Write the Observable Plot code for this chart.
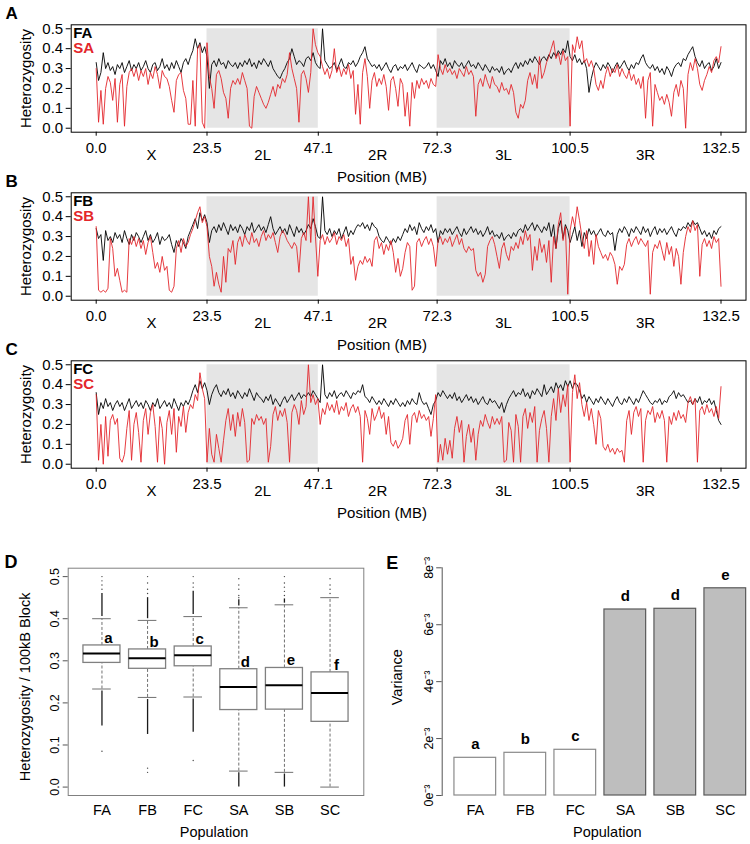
<!DOCTYPE html>
<html><head><meta charset="utf-8">
<script src="https://cdn.jsdelivr.net/npm/d3@7"></script>
<script src="https://cdn.jsdelivr.net/npm/@observablehq/plot@0.6"></script>
<style>
body{margin:0;background:#fff;}
#wrap{position:relative;width:750px;height:844px;overflow:hidden;background:#fff;}
#wrap svg{position:absolute;overflow:visible;}
</style></head><body><div id="wrap"></div>
<script>
// ---------- genome scans: heterozygosity x100, one value per 0.5 MB (0 .. 132.5 MB)
const STEP_MB = 0.5;
const FA = [33,24,28,38,30,33,29,31,27,32, 30,33,28,31,34,29,32,30,33,29, 31,34,30,28,32,33,29,31,35,30, 32,29,33,30,34,31,28,33,35,32,
 36,39,45,40,43,38,41,36,20,32, 34,31,35,32,33,30,34,32,31,33, 30,33,31,34,32,35,31,33,30,34, 32,35,33,31,34,30,28,26,25,28,
 30,33,35,40,36,32,34,33,31,35, 36,34,38,33,31,30,50,34,32,30, 31,33,29,32,35,31,30,33,32,34, 31,33,36,38,41,35,33,31,32,30,
 32,29,31,33,30,28,31,32,29,31, 30,32,29,31,33,30,28,32,31,30, 31,33,30,32,29,26,34,32,35,31, 33,30,34,32,31,33,30,32,34,31,
 32,30,33,31,29,32,30,28,31,29, 30,28,31,27,29,30,28,31,33,30, 33,31,34,32,35,33,36,34,32,35, 36,34,37,35,38,36,39,37,40,38,
 44,36,34,37,33,35,32,34,30,18, 25,30,33,31,29,32,30,33,31,28, 31,33,30,32,34,31,29,32,30,33, 32,35,37,33,31,30,32,29,31,28,
 30,27,31,29,26,30,32,33,31,35, 34,37,39,41,36,33,31,34,30,32, 33,29,31,35,30,33];
const SA = [30,3,19,2,20,26,23,14,25,3, 22,27,1,21,28,30,26,30,24,29, 26,30,22,28,25,31,27,20,29,26, 25,21,14,8,24,27,28,19,15,2,
 2,24,1,40,42,3,0,43,26,20, 10,27,29,25,18,15,5,20,24,22, 25,22,28,24,20,1,0,16,21,18, 15,12,10,13,17,21,16,22,20,25,
 23,27,38,30,25,20,3,27,29,25, 18,28,50,42,38,36,31,27,30,25, 29,40,28,31,26,30,27,32,25,29, 7,22,2,28,35,26,10,24,28,21,
 25,22,27,21,9,24,26,20,11,25, 22,6,18,1,23,15,24,20,25,22, 24,20,25,22,21,37,30,27,32,28, 30,27,29,25,30,28,26,31,27,29,
 26,6,22,25,21,27,23,20,26,22, 21,18,23,19,20,17,22,18,8,5, 12,10,14,24,28,22,27,20,36,25, 28,33,36,40,44,35,38,32,39,34,
 36,1,42,38,46,40,44,33,35,31, 34,30,22,19,24,20,27,31,26,30, 28,32,26,30,27,25,29,24,27,22, 25,20,26,5,24,28,1,22,18,14,
 16,12,17,13,6,18,22,16,24,20, 0,27,33,29,35,30,22,19,24,27, 31,28,34,36,33,41];
const FB = [34,29,31,18,33,28,30,27,32,29, 31,27,33,29,26,31,28,32,30,27, 30,33,28,31,27,29,32,26,30,28, 29,31,26,22,28,25,29,27,24,30,
 33,36,39,34,42,38,41,37,27,33, 35,32,36,33,37,34,31,36,33,35, 32,36,34,31,35,33,37,32,34,36, 33,35,32,36,40,34,31,33,35,32,
 34,31,36,33,30,35,32,34,31,33, 36,34,39,35,30,29,50,33,31,34, 30,33,31,34,29,32,35,30,33,31, 34,36,35,37,34,36,33,37,35,34,
 30,28,27,30,28,26,29,27,30,28, 31,34,32,36,33,35,31,37,34,32, 35,33,36,32,34,27,33,31,34,32, 34,31,33,35,32,30,34,31,33,35,
 32,34,31,33,30,32,35,31,33,30, 31,29,32,28,30,31,29,32,30,33, 34,32,36,33,35,37,33,36,34,32, 35,33,37,30,36,24,34,38,29,36,
 33,27,31,35,28,33,25,32,29,34, 31,33,30,32,34,31,30,33,31,32, 23,31,34,32,35,33,30,34,32,35, 33,31,35,32,34,30,33,35,31,34,
 32,34,31,33,35,32,30,34,33,35, 34,37,35,38,36,37,34,31,33,30, 32,29,33,31,34,35];
const SB = [35,3,2,3,2,4,29,24,10,14, 8,2,3,2,29,26,30,25,29,24, 28,21,27,30,22,14,17,12,20,13, 15,3,2,5,24,28,22,29,25,27,
 31,34,38,42,45,37,40,35,20,15, 5,12,6,2,20,7,24,22,28,16, 27,30,25,31,28,26,32,27,29,25, 30,33,28,31,29,32,27,22,30,33,
 31,28,26,24,27,25,12,29,32,28, 50,27,50,30,10,28,31,26,30,27, 29,32,26,30,28,31,25,29,16,20, 8,15,18,16,20,17,19,15,28,30,
 24,27,21,26,23,28,22,12,19,10, 14,22,27,25,3,5,27,29,25,28, 30,26,29,25,15,28,30,26,29,27, 30,25,28,31,26,29,24,22,25,23,
 24,13,10,12,7,11,25,28,30,26, 20,14,24,27,21,18,25,23,27,24, 30,26,33,28,31,13,25,18,29,22, 26,17,28,7,30,24,36,42,28,35,
 1,33,40,35,45,38,30,24,33,20, 28,16,31,25,22,19,21,18,22,20, 16,6,15,13,16,26,29,25,28,30, 26,29,27,25,28,1,22,26,24,28,
 23,18,27,21,25,15,24,20,6,22, 30,35,32,38,33,36,10,26,29,25, 28,24,30,27,29,5];
const FC = [36,25,31,28,33,29,31,27,30,32, 29,31,27,30,33,28,30,32,29,31, 28,32,30,27,31,29,33,28,30,32, 29,31,28,33,30,27,31,29,32,30,
 33,37,40,36,42,38,41,37,30,35, 38,40,36,34,37,35,38,34,36,33, 37,35,33,36,34,38,35,32,36,34, 33,31,34,32,35,30,33,31,29,32,
 34,31,33,35,32,34,36,33,35,34, 36,34,37,35,33,31,50,35,33,36, 34,37,33,35,36,34,37,35,33,36, 35,37,36,40,34,33,31,34,32,30,
 32,30,33,31,29,32,30,33,31,29, 31,29,32,30,33,31,30,36,32,30, 31,28,25,30,32,36,34,37,35,33, 35,33,36,32,34,31,33,35,32,34,
 31,33,30,32,34,31,30,33,31,32, 30,28,31,26,30,33,35,37,34,36, 35,38,34,36,33,37,35,38,36,34, 40,35,37,39,36,41,38,40,37,42,
 39,42,38,41,40,37,33,35,31,34, 32,30,33,31,34,32,30,33,31,29, 32,34,31,30,33,31,34,32,30,33, 31,34,37,35,33,31,30,32,31,33,
 30,32,31,34,35,37,33,36,34,35, 33,31,32,30,33,31,34,30,32,31, 33,30,32,27,22,20];
const SC = [35,2,20,0,24,4,22,25,20,23, 3,1,5,18,27,2,20,26,16,1, 22,28,15,26,30,19,1,24,18,0, 21,27,15,28,6,24,19,29,16,26,
 30,28,35,32,46,38,33,1,18,5, 1,15,8,1,12,22,28,17,25,14, 26,19,28,21,1,2,23,20,25,22, 24,20,23,1,9,25,29,22,27,24,
 28,21,1,26,30,27,20,32,25,29, 50,31,35,30,33,20,28,25,31,27, 30,26,32,25,29,27,31,24,28,30, 26,29,24,1,27,23,15,28,22,25,
 29,23,26,15,24,11,9,12,8,10, 13,22,25,10,24,26,21,27,23,25, 22,24,14,23,35,1,10,2,13,5, 12,3,18,24,16,22,1,14,20,11,
 18,2,15,22,19,25,21,18,24,20, 23,20,24,1,2,21,17,1,25,19, 1,24,28,18,26,21,29,1,17,23, 27,18,1,24,33,22,38,26,35,29,
 40,1,36,45,33,41,30,24,31,22, 28,20,10,27,23,9,7,10,6,8, 5,8,6,7,1,22,27,15,26,29, 24,28,1,22,27,25,29,21,26,23,
 27,22,1,24,20,26,22,27,23,25, 21,31,34,30,33,1,27,29,25,30, 26,28,24,29,23,39];

const chromBounds = [0, 23.5, 47.1, 72.3, 100.5, 132.5];
const chromTickLabels = ["0.0", "23.5", "47.1", "72.3", "100.5", "132.5"];
const chromNames = ["X", "2L", "2R", "3L", "3R"];
const shadedArms = [[23.5, 47.1], [72.3, 100.5]];
const hetTicks = [0, 0.1, 0.2, 0.3, 0.4, 0.5];

// ---------- D: boxplot summary per population
const popCats = ["FA", "FB", "FC", "SA", "SB", "SC"];
const whiskLo = [0.233, 0.213, 0.214, 0.038, 0.035, 0.0];
const boxQ1   = [0.295, 0.281, 0.287, 0.183, 0.184, 0.155];
const boxMed  = [0.3175, 0.306, 0.313, 0.238, 0.242, 0.2235];
const boxQ3   = [0.3365, 0.327, 0.334, 0.280, 0.283, 0.2725];
const whiskHi = [0.400, 0.396, 0.405, 0.426, 0.433, 0.450];
const boxLetters = ["a", "b", "c", "d", "e", "f"];
const denseOutHi = [[0.405, 0.46], [0.40, 0.45], [0.41, 0.465], [0.43, 0.445], [0.437, 0.447], null];
const denseOutLo = [[0.145, 0.228], [0.125, 0.208], [0.13, 0.209], [0.0, 0.034], [0.0, 0.031], null];
const sparseOut = [
  ["FA", [0.47, 0.48, 0.49, 0.50, 0.085]],
  ["FB", [0.46, 0.47, 0.485, 0.50, 0.045, 0.035]],
  ["FC", [0.475, 0.485, 0.50, 0.063]],
  ["SA", [0.45, 0.455, 0.47, 0.48, 0.495]],
  ["SB", [0.455, 0.465, 0.475, 0.485, 0.50]],
  ["SC", [0.46, 0.47, 0.48, 0.495]]
];

// ---------- E: variance per population
const variance = [1.324e-3, 1.50e-3, 1.606e-3, 6.535e-3, 6.56e-3, 7.28e-3];
const varLetters = ["a", "b", "c", "d", "d", "e"];
const varTicks = [0, 0.002, 0.004, 0.006, 0.008];
const varTickLabels = ["0e\u207B\u00B3", "2e\u207B\u00B3", "4e\u207B\u00B3", "6e\u207B\u00B3", "8e\u207B\u00B3"];

const FONT = "'Liberation Sans', Arial, Helvetica, sans-serif";
const RED = "#e3262b";
const wrap = document.getElementById("wrap");
function place(svg, left, top) {
  svg.style.left = left + "px";
  svg.style.top = top + "px";
  wrap.appendChild(svg);
}

function genomePanel(letter, bName, rName, black, red, top) {
  const rows = arr => arr.map((v, i) => ({pos: i * STEP_MB, het: v / 100}));
  const chroms = chromNames.map((name, i) => ({name, mid: (chromBounds[i] + chromBounds[i + 1]) / 2}));
  const svg = Plot.plot({
    width: 750, height: 185,
    marginLeft: 70.7, marginRight: 4.5, marginTop: 24.3, marginBottom: 53.3,
    style: {fontFamily: FONT, fontSize: "15px", background: "transparent", color: "black"},
    x: {domain: [-5.3, 137.8]},
    y: {domain: [-0.02, 0.52]},
    marks: [
      Plot.rect(shadedArms, {x1: d => d[0], x2: d => d[1], y1: 0, y2: 0.5, fill: "#e5e5e5"}),
      Plot.line(rows(black), {x: "pos", y: "het", stroke: "#000", strokeWidth: 0.9}),
      Plot.line(rows(red), {x: "pos", y: "het", stroke: RED, strokeWidth: 0.9}),
      Plot.frame({stroke: "#000"}),
      Plot.axisY({ticks: hetTicks, tickSize: 5, tickPadding: 3, tickFormat: d3.format(".1f"), label: null}),
      Plot.axisX({ticks: chromBounds, tickSize: 4, tickPadding: 6, label: null,
        tickFormat: d => chromTickLabels[chromBounds.indexOf(d)]}),
      Plot.text(chroms, {x: "mid", text: "name", frameAnchor: "bottom", dy: 22.8, lineAnchor: "middle"}),
      Plot.text(["Position (MB)"], {text: d => d, frameAnchor: "bottom", dx: -26.5, dy: 44.8,
        textAnchor: "middle", lineAnchor: "middle"}),
      Plot.text(["Heterozygosity"], {text: d => d, frameAnchor: "left", dx: -44.7, rotate: -90,
        textAnchor: "middle", lineAnchor: "middle"}),
      Plot.text([letter], {text: d => d, frameAnchor: "top-left", dx: -65.7, dy: -11.3, textAnchor: "start",
        lineAnchor: "middle", fontWeight: "bold", fontSize: 17}),
      Plot.text([bName], {text: d => d, frameAnchor: "top-left", dx: 2, dy: 8.2, textAnchor: "start",
        lineAnchor: "middle", fontWeight: "bold"}),
      Plot.text([rName], {text: d => d, frameAnchor: "top-left", dx: 2, dy: 23.7, textAnchor: "start",
        lineAnchor: "middle", fontWeight: "bold", fill: RED})
    ]
  });
  place(svg, 0, top);
}

genomePanel("A", "FA", "SA", FA, SA, 0);
genomePanel("B", "FB", "SB", FB, SB, 167.8);
genomePanel("C", "FC", "SC", FC, SC, 335.6);

// ---------- D
{
  const rows = popCats.map((cat, i) => ({cat, lo: whiskLo[i], q1: boxQ1[i], med: boxMed[i], q3: boxQ3[i],
    hi: whiskHi[i], sig: boxLetters[i]}));
  const dense = [];
  popCats.forEach((cat, i) => {
    if (denseOutHi[i]) dense.push({cat, a: denseOutHi[i][0], b: denseOutHi[i][1]});
    if (denseOutLo[i]) dense.push({cat, a: denseOutLo[i][0], b: denseOutLo[i][1]});
  });
  const sparse = sparseOut.flatMap(([cat, vs]) => vs.map(v => ({cat, v})));
  const svg = Plot.plot({
    width: 375, height: 304,
    marginLeft: 67.7, marginRight: 11.7, marginTop: 27.7, marginBottom: 49,
    style: {fontFamily: FONT, fontSize: "14.5px", background: "transparent", color: "black"},
    x: {type: "band", domain: popCats, paddingInner: 0, paddingOuter: 0.24, round: false},
    y: {domain: [-0.02, 0.52]},
    marks: [
      Plot.frame({stroke: "#808080"}),
      Plot.ruleX(rows, {x: "cat", y1: "q3", y2: "hi", stroke: "#707070", strokeDasharray: "3,2"}),
      Plot.ruleX(rows, {x: "cat", y1: "lo", y2: "q1", stroke: "#707070", strokeDasharray: "3,2"}),
      Plot.ruleX(dense, {x: "cat", y1: "a", y2: "b", stroke: "#1a1a1a", strokeWidth: 1.3}),
      Plot.dot(sparse, {x: "cat", y: "v", r: 0.7, fill: "#444", stroke: null}),
      Plot.tickY(rows, {x: "cat", y: "hi", stroke: "#707070", insetLeft: 13.5, insetRight: 13.5}),
      Plot.tickY(rows, {x: "cat", y: "lo", stroke: "#707070", insetLeft: 13.5, insetRight: 13.5}),
      Plot.barY(rows, {x: "cat", y1: "q1", y2: "q3", fill: "white", stroke: "#808080", strokeWidth: 1.3,
        insetLeft: 4.3, insetRight: 4.3}),
      Plot.tickY(rows, {x: "cat", y: "med", stroke: "#000", strokeWidth: 2, insetLeft: 4.3, insetRight: 4.3}),
      Plot.text(rows, {x: "cat", y: "q3", text: "sig", dx: 6.5, dy: -7.5, fontWeight: "bold", fontSize: 15,
        lineAnchor: "middle"}),
      Plot.axisY({ticks: hetTicks, tickSize: 5, tickRotate: -90, tickFormat: d3.format(".1f"), fontSize: 12.5,
        label: null, stroke: "#555"}),
      Plot.axisX({tickSize: 0, tickPadding: 9, label: null}),
      Plot.text(["Heterozygosity / 100kB Block"], {text: d => d, frameAnchor: "left", dx: -42.7, dy: 5,
        rotate: -90, textAnchor: "middle", lineAnchor: "middle"}),
      Plot.text(["Population"], {text: d => d, frameAnchor: "bottom", dx: -2, dy: 36.7,
        textAnchor: "middle", lineAnchor: "middle"}),
      Plot.text(["D"], {text: d => d, frameAnchor: "top-left", dx: -57.2, dy: -6, textAnchor: "middle",
        lineAnchor: "middle", fontWeight: "bold", fontSize: 18})
    ]
  });
  place(svg, 0, 540);
}

// ---------- E
{
  const rows = popCats.map((cat, i) => ({cat, v: variance[i], sig: varLetters[i]}));
  const svg = Plot.plot({
    width: 375, height: 304,
    marginLeft: 66.7, marginRight: 0.2, marginTop: 27.3, marginBottom: 49,
    style: {fontFamily: FONT, fontSize: "14.5px", background: "transparent", color: "black"},
    x: {type: "band", domain: popCats, paddingInner: 0, paddingOuter: 0.081, align: 1, round: false},
    y: {domain: [0, 0.008]},
    marks: [
      Plot.barY(rows, {x: "cat", y: "v", fill: d => d.cat.startsWith("S") ? "#bebebe" : "white",
        stroke: d => d.cat.startsWith("S") ? "#5a5a5a" : "#8a8a8a", strokeWidth: 1.2,
        insetLeft: 4.15, insetRight: 4.15}),
      Plot.text(rows, {x: "cat", y: "v", text: "sig", dy: -13.3, fontWeight: "bold", fontSize: 15,
        lineAnchor: "middle"}),
      Plot.frame({anchor: "left", stroke: "#555"}),
      Plot.axisY({ticks: varTicks, tickSize: 5.5, tickRotate: -90, fontSize: 12.5, label: null, stroke: "#555",
        tickFormat: d => varTickLabels[varTicks.indexOf(d)]}),
      Plot.axisX({tickSize: 0, tickPadding: 9, label: null}),
      Plot.text(["Variance"], {text: d => d, frameAnchor: "left", dx: -45, dy: -4.5, rotate: -90,
        textAnchor: "middle", lineAnchor: "middle"}),
      Plot.text(["Population"], {text: d => d, frameAnchor: "bottom", dx: 11, dy: 36.7,
        textAnchor: "middle", lineAnchor: "middle"}),
      Plot.text(["E"], {text: d => d, frameAnchor: "top-left", dx: -50, dy: -4.6, textAnchor: "middle",
        lineAnchor: "middle", fontWeight: "bold", fontSize: 18})
    ]
  });
  place(svg, 375, 540);
}
</script>
</body></html>
